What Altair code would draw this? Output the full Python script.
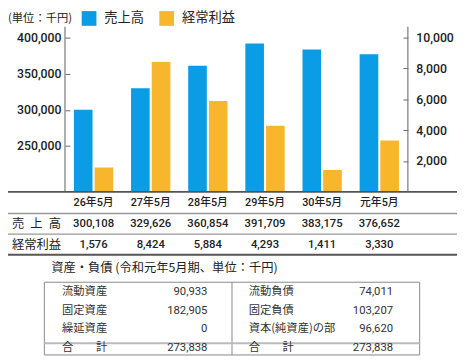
import altair as alt
import pandas as pd

# ---- data ----
years = ['26年5月', '27年5月', '28年5月', '29年5月', '30年5月', '元年5月']
sales = [300108, 329626, 360854, 391709, 383175, 376652]
profit = [1576, 8424, 5884, 4293, 1411, 3330]
series_names = ['売上高', '経常利益']
row_labels = ['売\u2002上\u2002高', '経常利益']
unit_label = '(単位：千円)'
bs_title = '資産・負債 (令和元年5月期、単位：千円)'
asset_items = ['流動資産', '固定資産', '繰延資産', '合　　計']
asset_values = [90933, 182905, 0, 273838]
liab_items = ['流動負債', '固定負債', '資本(純資産)の部', '合　　計']
liab_values = [74011, 103207, 96620, 273838]
sales_ticks = [250000, 300000, 350000, 400000]
profit_ticks = [2000, 4000, 6000, 8000, 10000]

BLUE = '#0a9de6'
ORANGE = '#f8b62d'
TXT = '#222222'
JP = "'Noto Sans CJK JP', sans-serif"
NUM = "Roboto, 'Noto Sans CJK JP', sans-serif"
W, H = 349, 168

sales_df = pd.DataFrame({'year': years, 'value': sales, 'series': series_names[0]})
profit_df = pd.DataFrame({'year': years, 'value': profit, 'series': series_names[1]})
table_df = pd.concat([sales_df, profit_df], ignore_index=True)
rowlab_df = pd.DataFrame({'series': series_names, 'label': row_labels})
asset_df = pd.DataFrame({'item': asset_items, 'value': asset_values})
liab_df = pd.DataFrame({'item': liab_items, 'value': liab_values})
one = pd.DataFrame({'k': [0]})

x_enc = alt.X('year:N', sort=years,
              scale=alt.Scale(paddingInner=0.312, paddingOuter=0.156),
              axis=alt.Axis(title=None, orient='bottom', domain=False, ticks=False,
                            tickSize=0, labelPadding=11, labelBaseline='middle',
                            labelAngle=0, labelFont=NUM, labelFontSize=11,
                            labelFontWeight=500, labelColor=TXT))
xoff = alt.XOffset('series:N', sort=series_names,
                   scale=alt.Scale(domain=series_names, paddingInner=0.1))
color = alt.Color('series:N', scale=alt.Scale(domain=series_names, range=[BLUE, ORANGE]),
                  legend=alt.Legend(orient='none', legendX=17, legendY=-16,
                                    direction='horizontal', title=None,
                                    symbolType='square', symbolSize=225,
                                    symbolStrokeWidth=0, symbolOpacity=1,
                                    labelFont=JP, labelFontSize=13.5, labelColor=TXT,
                                    labelOffset=8, columnPadding=15, padding=0))

bars_sales = alt.Chart(sales_df).mark_bar(clip=True).encode(
    x=x_enc, xOffset=xoff, color=color,
    y=alt.Y('value:Q', scale=alt.Scale(domain=[186800, 414600], nice=False, zero=False),
            axis=alt.Axis(orient='left', values=sales_ticks, format=',.0f', title=None,
                          grid=False, domain=False, tickSize=5, offset=-5,
                          labelPadding=4, tickColor='#666', labelFont=NUM,
                          labelFontSize=12.5, labelFontWeight=500, labelColor=TXT)))

bars_profit = alt.Chart(profit_df).mark_bar(clip=True).encode(
    x=x_enc, xOffset=xoff, color=color,
    y=alt.Y('value:Q', scale=alt.Scale(domain=[0, 10700], nice=False),
            axis=alt.Axis(orient='right', values=profit_ticks, format=',.0f', title=None,
                          grid=False, domain=False, tickSize=5, offset=-5,
                          labelPadding=8, tickColor='#666', labelFont=NUM,
                          labelFontSize=12.5, labelFontWeight=500, labelColor=TXT)))

row_y = alt.Y('series:N', scale=alt.Scale(type='point', domain=series_names,
                                          range=[201, 222], padding=0),
              axis=None)

table_text = alt.Chart(table_df).mark_text(
    font=NUM, fontSize=11.5, fontWeight=500, color=TXT, baseline='middle', align='center'
).encode(x=x_enc, y=row_y, text=alt.Text('value:Q', format=',.0f'))

row_text = alt.Chart(rowlab_df).mark_text(
    font=JP, fontSize=12.5, color=TXT, baseline='middle', align='left'
).encode(x=alt.value(-54), y=row_y, text='label:N')


def hrule(y, x1, x2, color, width):
    return alt.Chart(one).mark_rule(color=color, strokeWidth=width).encode(
        x=alt.value(x1), x2=alt.value(x2), y=alt.value(y))


def vrule(x, y1, y2, color, width):
    return alt.Chart(one).mark_rule(color=color, strokeWidth=width).encode(
        x=alt.value(x), y=alt.value(y1), y2=alt.value(y2))


lines = [
    vrule(0, 0, H, '#777777', 1.2),
    vrule(W, 0, H, '#777777', 1.2),
    hrule(H, -58, 399, '#555555', 1.6),
    hrule(190, -58, 399, '#999999', 1.4),
    hrule(211, -58, 399, '#999999', 1.4),
    hrule(232, -58, 399, '#555555', 2),
]

unit_text = alt.Chart(pd.DataFrame({'t': [unit_label]})).mark_text(
    font=JP, fontSize=11.5, color=TXT, align='left', baseline='middle'
).encode(x=alt.value(-58), y=alt.value(-8), text='t:N')

bs_title_text = alt.Chart(pd.DataFrame({'t': [bs_title]})).mark_text(
    font=JP, fontSize=12.5, color=TXT, align='left', baseline='middle'
).encode(x=alt.value(-14), y=alt.value(246), text='t:N')

bs_frame = alt.Chart(one).mark_rect(fillOpacity=0, stroke='#888888', strokeWidth=1).encode(
    x=alt.value(-21), x2=alt.value(361), y=alt.value(260), y2=alt.value(334))
bs_div = vrule(170, 260, 334, '#888888', 1)
bs_sep = hrule(322, -21, 361, '#bbbbbb', 2)

a_y = alt.Y('item:N', scale=alt.Scale(type='point', domain=asset_items, range=[270, 327],
                                      padding=0), axis=None)
l_y = alt.Y('item:N', scale=alt.Scale(type='point', domain=liab_items, range=[270, 327],
                                      padding=0), axis=None)

a_lab = alt.Chart(asset_df).mark_text(font=JP, fontSize=11.5, color='#333', align='left',
                                      baseline='middle').encode(x=alt.value(-3), y=a_y, text='item:N')
a_val = alt.Chart(asset_df).mark_text(font=NUM, fontSize=11.5, color='#333', align='right',
                                      baseline='middle').encode(
    x=alt.value(145), y=a_y, text=alt.Text('value:Q', format=',.0f'))
l_lab = alt.Chart(liab_df).mark_text(font=JP, fontSize=11.5, color='#333', align='left',
                                     baseline='middle').encode(x=alt.value(187), y=l_y, text='item:N')
l_val = alt.Chart(liab_df).mark_text(font=NUM, fontSize=11.5, color='#333', align='right',
                                     baseline='middle').encode(
    x=alt.value(334), y=l_y, text=alt.Text('value:Q', format=',.0f'))

chart = alt.layer(
    bars_sales, bars_profit, table_text, row_text, *lines, unit_text,
    bs_title_text, bs_frame, bs_div, bs_sep, a_lab, a_val, l_lab, l_val
).resolve_scale(y='independent').properties(
    width=W, height=H,
    padding={'left': 58, 'top': 16, 'right': 50, 'bottom': 168},
    autosize=alt.AutoSizeParams(type='none'),
).configure_view(stroke='transparent')

chart.save('out.html', embed_options={'renderer': 'svg', 'actions': False})
